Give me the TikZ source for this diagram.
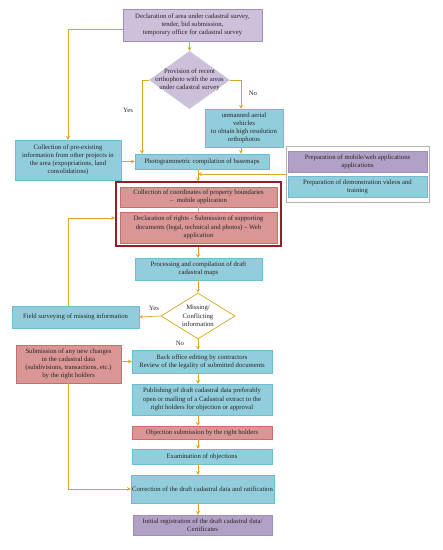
\documentclass[tikz,border=0pt]{standalone}
\usepackage{fontspec}
\setmainfont{Liberation Serif}
\usepackage{tikz}
\usetikzlibrary{arrows,shapes.geometric,positioning}

\definecolor{gold}{RGB}{216,166,38}
\definecolor{lav}{RGB}{204,192,218}
\definecolor{lavd}{RGB}{160,140,190}
\definecolor{blu}{RGB}{146,205,220}
\definecolor{blud}{RGB}{110,188,210}
\definecolor{pnk}{RGB}{217,150,148}
\definecolor{pnkd}{RGB}{200,110,108}
\definecolor{pur}{RGB}{178,161,199}
\definecolor{frm}{RGB}{150,28,38}

\begin{document}
\begin{tikzpicture}[
	x = 1pt, y = -1pt,
	> = stealth, % arrow head style
	font=\fontsize{6.7}{8.2}\selectfont,
	every node/.style={align=center, inner sep=1pt, text=black!85},
	line/.style={draw=gold, line width=.7pt},
	B/.style={rectangle, draw=blud, line width=.4pt, fill=blu},
	R/.style={rectangle, draw=pnkd, line width=.4pt, fill=pnk},
	P/.style={rectangle, draw=lavd, line width=.4pt, fill=pur},
	D/.style={diamond, inner sep=0pt},
	L/.style={inner sep=0pt},
	]
	\useasboundingbox (0,0) rectangle (443,550);

	% frames behind the grouped boxes
	\node[draw=gray!60, line width=.9pt, fill=white, minimum width=143pt, minimum height=56pt] (group) at (357.5,174) {};
	\node[draw=frm, line width=1.4pt, fill=white, minimum width=165pt, minimum height=64pt] (frame) at (198.5,214) {};

	% Nodes and their positions
	\node[P, fill=lav, minimum width=139pt, minimum height=32pt] (decl) at (192.5,25) {Declaration of area under cadastral survey,\\ tender, bid submission,\\ temporary office for cadastral survey};
	\node[D, fill=lav, minimum width=81pt, minimum height=58pt] (ortho) at (189.5,80) {};
	\node[L] (orthoT) at (ortho) {Provision of recent\\ orthophoto with the areas\\ under cadastral survey};
	\node[B, minimum width=78pt, minimum height=38pt] (uav) at (244,128) {unmanned aerial\\ vehicles\\ to obtain high resolution\\ orthophotos};
	\node[B, minimum width=106pt, minimum height=40pt] (preex) at (68,160) {Collection of pre-existing\\ information from other projects in\\ the area (expopriations, land\\ consolidations)};
	\node[B, minimum width=134pt, minimum height=15pt] (photo) at (202,161.5) {Photogrammetric compilation of basemaps};
	\node[P, minimum width=139pt, minimum height=21pt] (mobweb) at (357.5,161.5) {Preparation of mobile/web applications\\ applications};
	\node[B, minimum width=139pt, minimum height=21pt] (demo) at (357.5,186.5) {Preparation of demonstration videos and\\ training};
	\node[R, minimum width=157pt, minimum height=20pt] (coord) at (198.5,197) {Collection of coordinates of property boundaries\\ --\ \ mobile application};
	\node[R, minimum width=157pt, minimum height=31pt] (rights) at (198.5,227.5) {Declaration of rights - Submission of supporting\\ documents (legal, technical and photos) -- Web\\ application};
	\node[B, minimum width=127pt, minimum height=22pt] (proc) at (198.5,269) {Processing and compilation of draft\\ cadastral maps};
	\node[D, draw=gold, line width=.7pt, fill=white, minimum width=74pt, minimum height=46pt] (miss) at (198,316) {};
	\node[L] (missT) at (miss) {Missing/\\ Conflicting\\ information};
	\node[B, minimum width=127pt, minimum height=22pt] (field) at (75.5,317) {Field surveying of missing information};
	\node[B, minimum width=140pt, minimum height=23pt] (backoff) at (202,361.5) {Back office editing by contractors\\ Review of the legality of submitted documents};
	\node[R, minimum width=105pt, minimum height=38pt] (submit) at (68.5,364) {Submission of any new changes\\ in the cadastral data\\ (subdivisions, transactions, etc.)\\ by the right holders};
	\node[B, minimum width=140pt, minimum height=31pt] (publish) at (202,399.5) {Publishing of draft cadastral data preferably\\ open or mailing of a Cadastral extract to the\\ right holders for objection or approval};
	\node[R, minimum width=140pt, minimum height=13pt] (object) at (202,432.5) {Objection submission by the right holders};
	\node[B, minimum width=140pt, minimum height=15pt] (exam) at (202,456.5) {Examination of objections};
	\node[B, minimum width=139pt, minimum height=28pt] (correct) at (202.5,489) {Correction of the draft cadastral data and ratification};
	\node[P, minimum width=139pt, minimum height=20pt] (initreg) at (202.5,525) {Initial registration of the draft cadastral data/\\ Certificates};

	% Labels
	\node[L] (yes1) at (128,110) {Yes};
	\node[L] (no1) at (253,93) {No};
	\node[L] (yes2) at (154,308) {Yes};
	\node[L] (no2) at (180,343) {No};

	% Helper coordinates for the vertical runs
	\coordinate (axis) at (198,0);
	\coordinate (yesX) at (142,0);

	% Paths connecting nodes
	\path[line,->] ([yshift=-4pt]decl.west) -| (preex.north);
	\path[line,->] (ortho.north |- decl.south) -- (ortho.north);
	\path[line,->] (ortho.west) -| (yesX |- photo.north);
	\path[line,->] (ortho.east) -| ([xshift=-3pt]uav.north);
	\path[line,->] ([xshift=-3pt]uav.south) -- ([xshift=-3pt]uav.south |- photo.north);
	\path[line,->] (photo.west -| preex.east) -- (photo.west);
	\path[line,->] (axis |- photo.south) -- (axis |- frame.north);
	\path[line,->] (group.west) -- (group.west -| axis);
	\path[draw=gray!60, line width=.8pt] (axis |- coord.south) -- (axis |- rights.north);
	\path[line,->] (axis |- frame.south) -- (axis |- proc.north);
	\path[line,->] (axis |- proc.south) -- (miss.north);
	\path[line,->] (miss.west) -- (field.east);
	\path[line,->] ([xshift=-7pt]field.north) |- ([yshift=-4pt]frame.west);
	\path[line,->] (miss.south) -- (axis |- backoff.north);
	\path[line,->] (backoff.west -| submit.east) -- (backoff.west);
	\path[line,->] (submit.south) |- (correct.west);
	\path[line,->] (axis |- backoff.south) -- (axis |- publish.north);
	\path[line,->] (axis |- publish.south) -- (axis |- object.north);
	\path[line,->] (axis |- object.south) -- (axis |- exam.north);
	\path[line,->] (axis |- exam.south) -- (axis |- correct.north);
	\path[line,->] (axis |- correct.south) -- (axis |- initreg.north);

\end{tikzpicture}
\end{document}
